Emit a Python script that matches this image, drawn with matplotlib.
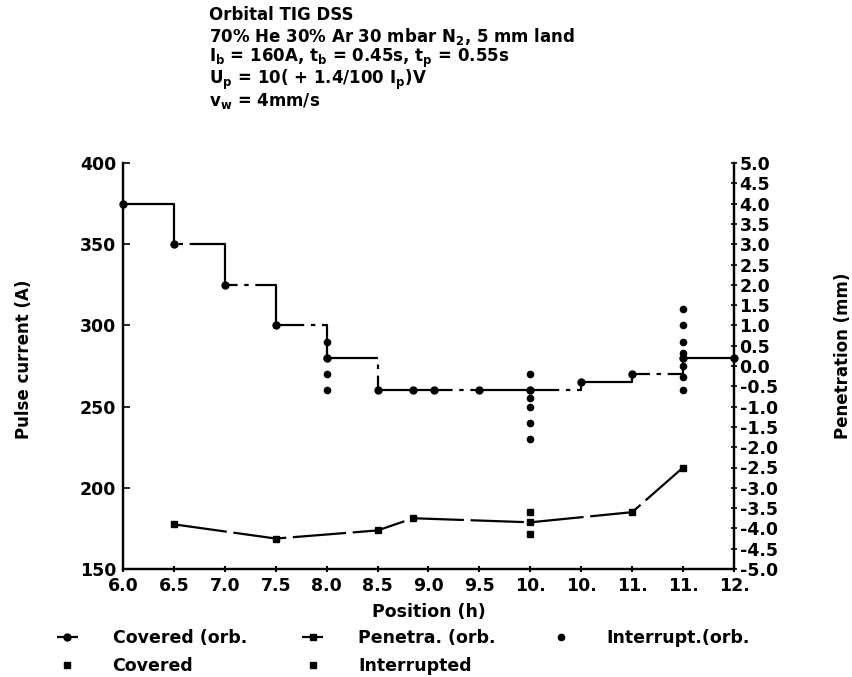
import matplotlib
matplotlib.use('Agg')
import numpy as np
from matplotlib import pyplot as plt

plt.rcParams['font.family'] = ['DejaVu Sans']
plt.rcParams['font.weight'] = 'bold'
plt.rcParams['axes.labelweight'] = 'bold'
plt.rcParams['mathtext.default'] = 'bf'

# position ticks (h) and the truncated labels printed on the chart
pos_ticks = [6.0, 6.5, 7.0, 7.5, 8.0, 8.5, 9.0, 9.5, 10.0, 10.5, 11.0, 11.5, 12.0]
pos_labels = ['6.0', '6.5', '7.0', '7.5', '8.0', '8.5', '9.0', '9.5',
              '10.', '10.', '11.', '11.', '12.']

# Covered (orb.) - pulse current staircase, left axis
covered_orb_x = [6.0, 6.5, 7.0, 7.5, 8.0, 8.5, 8.85, 9.05, 9.5, 10.0, 10.5, 11.0, 11.5, 12.0]
covered_orb_y = [375, 350, 325, 300, 280, 260, 260, 260, 260, 260, 265, 270, 280, 280]

# Penetra. (orb.) - penetration, right axis
penetra_x = [6.5, 7.5, 8.5, 8.85, 10.0, 11.0, 11.5]
penetra_y = [-3.9, -4.25, -4.05, -3.75, -3.85, -3.6, -2.5]

# Interrupt.(orb.) - pulse current columns, left axis
interrupt_x = [8.0, 8.0, 8.0, 8.0,
               10.0, 10.0, 10.0, 10.0, 10.0, 10.0,
               11.5, 11.5, 11.5, 11.5, 11.5, 11.5, 11.5]
interrupt_y = [290, 280, 270, 260,
               270, 260, 255, 250, 240, 230,
               310, 300, 290, 283, 275, 268, 260]

# single penetration points
covered_x = [10.0]
covered_y = [-3.6]
interrupted_x = [10.0]
interrupted_y = [-4.15]

fig = plt.figure(figsize=(8.53, 6.77), dpi=100)
ax = fig.add_axes([123 / 853, 1 - 569 / 677, (734 - 123) / 853, (569 - 163) / 677])
ax2 = ax.twinx()

l1, = ax.plot(covered_orb_x, covered_orb_y, drawstyle='steps-post', color='black',
              lw=1.6, marker='o', ms=5, dashes=(40, 3, 2, 3), clip_on=False, zorder=3)
l3, = ax.plot(interrupt_x, interrupt_y, ls='none', marker='o', ms=4.5, color='black',
              clip_on=False, zorder=3)
l2, = ax2.plot(penetra_x, penetra_y, color='black', lw=1.6, marker='s', ms=5,
               dashes=(24, 3), clip_on=False, zorder=3)
l4, = ax2.plot(covered_x, covered_y, ls='none', marker='s', ms=4.5, color='black')
l5, = ax2.plot(interrupted_x, interrupted_y, ls='none', marker='s', ms=4.5, color='black')

ax.set_xlim(6.0, 12.0)
ax.set_ylim(150, 400)
ax2.set_ylim(-5, 5)
ax.set_xticks(pos_ticks)
ax.set_xticklabels(pos_labels)
ax.set_yticks([150, 200, 250, 300, 350, 400])
r_ticks = np.arange(-5.0, 5.01, 0.5)
ax2.set_yticks(r_ticks)
ax2.set_yticklabels(['%.1f' % v for v in r_ticks])

for a in (ax, ax2):
    a.spines['top'].set_visible(False)
    for s in a.spines.values():
        s.set_linewidth(1.6)
ax.tick_params(axis='x', direction='inout', length=5, width=1.5, labelsize=12.5, pad=3)
ax.tick_params(axis='y', direction='in', length=5, width=1.2, labelsize=12.5, pad=5)
ax2.tick_params(axis='y', direction='inout', length=4, width=1.2, labelsize=12.5, pad=2)

ax.set_xlabel('Position (h)', fontsize=12.5, fontweight='bold', labelpad=6)
fig.text(24 / 853, 1 - 359 / 677, 'Pulse current (A)', rotation=90, fontsize=12,
         ha='center', va='center')
fig.text(843 / 853, 1 - 356 / 677, 'Penetration (mm)', rotation=90, fontsize=12,
         ha='center', va='center')

# header block
header = ['Orbital TIG DSS',
          '70% He 30% Ar 30 mbar N$_2$, 5 mm land',
          'I$_b$ = 160A, t$_b$ = 0.45s, t$_p$ = 0.55s',
          'U$_p$ = 10( + 1.4/100 I$_p$)V',
          'v$_w$ = 4mm/s']
for i, line in enumerate(header):
    fig.text(209 / 853, 1 - (15 + 21.5 * i) / 677, line, fontsize=12, va='center', ha='left')

fig.legend([l1, l4, l2, l5, l3],
           ['Covered (orb.', 'Covered', 'Penetra. (orb.', 'Interrupted', 'Interrupt.(orb.'],
           ncol=3, loc='upper left', bbox_to_anchor=(57 / 853, 1 - 629 / 677),
           frameon=False, fontsize=12.5, handlelength=1.2, handletextpad=2.0,
           columnspacing=3.2, labelspacing=0.6, borderpad=0, borderaxespad=0)

fig.savefig('out.png', dpi=100)
